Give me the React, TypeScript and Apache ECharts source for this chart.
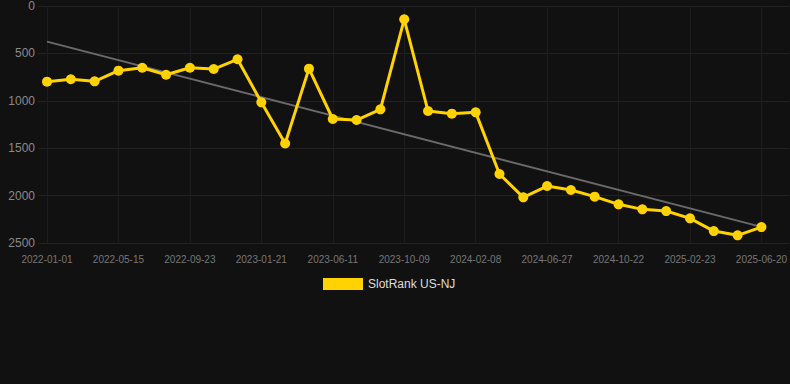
import React, { useEffect, useRef } from "react";
import * as echarts from "echarts";

const dates = [
  "2022-01-01", "2022-02-14", "2022-03-30", "2022-05-15", "2022-06-28", "2022-08-10",
  "2022-09-23", "2022-11-02", "2022-12-12", "2023-01-21", "2023-03-09", "2023-04-25",
  "2023-06-11", "2023-07-21", "2023-08-30", "2023-10-09", "2023-11-19", "2023-12-29",
  "2024-02-08", "2024-03-24", "2024-05-11", "2024-06-27", "2024-08-04", "2024-09-13",
  "2024-10-22", "2024-12-02", "2025-01-12", "2025-02-23", "2025-04-03", "2025-05-12",
  "2025-06-20",
];

const rankValues = [
  798, 773, 795, 682, 651, 725, 651, 665, 562, 1016, 1450, 661, 1192, 1203, 1090, 141,
  1108, 1136, 1122, 1772, 2018, 1899, 1941, 2011, 2092, 2145, 2163, 2240, 2374, 2419, 2332,
];

const trendStart = 376;
const trendEnd = 2330;

const labelIndices = [0, 3, 6, 9, 12, 15, 18, 21, 24, 27, 30];
const yTicks = [0, 500, 1000, 1500, 2000, 2500];

export default function App() {
  const ref = useRef<HTMLDivElement>(null);

  useEffect(() => {
    if (!ref.current) return;
    const chart = echarts.init(ref.current, undefined, { renderer: "svg" });
    const n = dates.length - 1;
    chart.setOption({
      animation: false,
      backgroundColor: "#111111",
      grid: { left: 38, right: 0, top: 6, bottom: 141, containLabel: false },
      legend: {
        data: ["SlotRank US-NJ"],
        top: 278,
        left: 323,
        padding: 0,
        icon: "rect",
        itemWidth: 40,
        itemHeight: 12,
        itemGap: 10,
        textStyle: { color: "#dddddd", fontSize: 12, fontFamily: "Liberation Sans, Arial, sans-serif" },
      },
      xAxis: {
        type: "value",
        min: -0.378,
        max: n + 1.175,
        axisLine: { show: false },
        axisTick: { show: false, customValues: labelIndices },
        axisLabel: {
          customValues: labelIndices,
          color: "#777777",
          fontSize: 10,
          margin: 11,
          fontFamily: "Liberation Sans, Arial, sans-serif",
          formatter: (v: number) => dates[Math.round(v)] ?? "",
        },
        splitLine: { show: true, lineStyle: { color: "#1d1d1d", width: 1 } },
      },
      yAxis: {
        type: "value",
        inverse: true,
        min: yTicks[0],
        max: yTicks[yTicks.length - 1],
        interval: 500,
        axisLine: { show: false },
        axisTick: { show: false },
        axisLabel: {
          color: "#8a8a8a",
          fontSize: 12,
          margin: 3,
          fontFamily: "Liberation Sans, Arial, sans-serif",
          formatter: (v: number) => String(v),
        },
        splitLine: { show: true, lineStyle: { color: "#222222", width: 1 } },
      },
      series: [
        {
          name: "Trend",
          type: "line",
          z: 1,
          data: [
            [0, trendStart],
            [n, trendEnd],
          ],
          symbol: "none",
          lineStyle: { color: "#6a6a6a", width: 2 },
          silent: true,
        },
        {
          name: "SlotRank US-NJ",
          type: "line",
          z: 2,
          data: rankValues.map((v, i) => [i, v]),
          symbol: "circle",
          symbolSize: 10,
          itemStyle: { color: "#FFD200" },
          lineStyle: { color: "#FFD200", width: 3 },
        },
      ],
    });
    return () => chart.dispose();
  }, []);

  return (
    <div
      ref={ref}
      style={{ position: "fixed", left: 0, top: 0, width: 790, height: 384 }}
    />
  );
}
